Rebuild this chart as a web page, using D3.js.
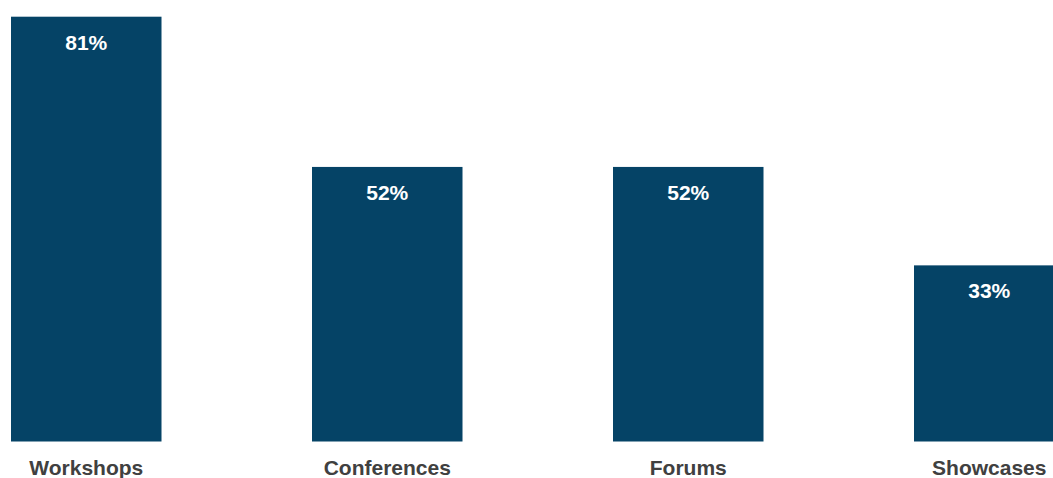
<!DOCTYPE html>
<html>
<head>
<meta charset="utf-8">
<script src="https://cdn.jsdelivr.net/npm/d3@7"></script>
<style>
  html, body { margin: 0; padding: 0; background: #ffffff; overflow: hidden; }
  svg { display: block; }
</style>
</head>
<body>
<svg id="chart" width="1053" height="478"></svg>
<script>
// Share of respondents by event type
const categories = ["Workshops", "Conferences", "Forums", "Showcases"];
const values = [81, 52, 52, 33];
const valueLabels = ["81%", "52%", "52%", "33%"];

const svg = d3.select("#chart");
const baselineY = 441.5, topY = 16.7;

const x = d3.scaleBand()
  .domain(categories)
  .range([11, 1064.5])
  .paddingInner(0.5)
  .paddingOuter(0);

const y = d3.scaleLinear()
  .domain([-1, 81])
  .range([baselineY, topY]);

const data = categories.map((c, i) => ({ cat: c, v: values[i], label: valueLabels[i] }));

svg.selectAll("rect.bar")
  .data(data)
  .join("rect")
  .attr("class", "bar")
  .attr("x", d => x(d.cat))
  .attr("width", x.bandwidth())
  .attr("y", d => y(d.v))
  .attr("height", d => y(-1) - y(d.v))
  .attr("fill", "#054366");

svg.selectAll("text.value")
  .data(data)
  .join("text")
  .attr("class", "value")
  .attr("x", d => x(d.cat) + x.bandwidth() / 2)
  .attr("y", d => y(d.v) + 33)
  .attr("text-anchor", "middle")
  .attr("font-family", "Liberation Sans, Arial, sans-serif")
  .attr("font-weight", "bold")
  .attr("font-size", 21)
  .attr("fill", "#ffffff")
  .text(d => d.label);

// Category axis labels below the bars
const xAxis = d3.axisBottom(x).tickSize(0).tickPadding(0);
const gx = svg.append("g")
  .attr("transform", `translate(0, ${baselineY})`)
  .call(xAxis);
gx.select(".domain").remove();
gx.selectAll("text")
  .attr("y", 33)
  .attr("dy", 0)
  .attr("font-family", "Liberation Sans, Arial, sans-serif")
  .attr("font-weight", "bold")
  .attr("font-size", 21)
  .attr("fill", "#404040");
</script>
</body>
</html>
